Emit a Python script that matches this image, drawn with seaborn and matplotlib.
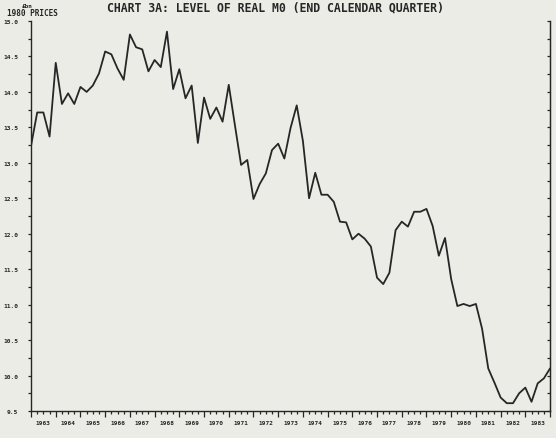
import numpy as np
import pandas as pd
import matplotlib
matplotlib.use("Agg")
import matplotlib.pyplot as plt
import seaborn as sns
from matplotlib.ticker import MultipleLocator, NullFormatter, FormatStrFormatter

# ---- data (end of calendar quarter, 1962Q4 .. 1983Q4), £bn at 1980 prices ----
first_year = 1963
last_year = 1984
real_m0 = [
    13.24, 13.71, 13.71, 13.37, 14.41, 13.83, 13.98, 13.83, 14.07, 14.00,
    14.09, 14.26, 14.57, 14.53, 14.33, 14.17, 14.81, 14.63, 14.60, 14.29,
    14.45, 14.35, 14.85, 14.04, 14.32, 13.91, 14.09, 13.28, 13.92, 13.62,
    13.78, 13.58, 14.10, 13.53, 12.97, 13.04, 12.49, 12.70, 12.85, 13.18,
    13.27, 13.06, 13.49, 13.81, 13.31, 12.50, 12.86, 12.55, 12.55, 12.45,
    12.17, 12.16, 11.92, 12.00, 11.93, 11.82, 11.38, 11.29, 11.45, 12.05,
    12.17, 12.10, 12.31, 12.31, 12.35, 12.11, 11.69, 11.94, 11.36, 10.98,
    11.01, 10.98, 11.01, 10.66, 10.10, 9.90, 9.69, 9.61, 9.61, 9.75,
    9.83, 9.63, 9.89, 9.96, 10.10,
]
year_labels = [str(y) for y in range(first_year, last_year)]
title_text = "CHART 3A: LEVEL OF REAL M0 (END CALENDAR QUARTER)"
unit_text = "£bn"
prices_text = "1980 PRICES"

quarter_pos = first_year + np.arange(len(real_m0)) / 4.0
df = pd.DataFrame({"time": quarter_pos, "value": real_m0})

# ---- style ----
bg = "#ececE6"
ink = "#262626"
sns.set_style("ticks")
plt.rcParams["font.family"] = ["DejaVu Sans Mono", "DejaVu Sans"]
plt.rcParams["font.weight"] = "bold"

fig = plt.figure(figsize=(5.56, 4.39), dpi=100, facecolor=bg)
ax = fig.add_axes([0.0558, 0.0615, 0.9335, 0.8884], facecolor=bg)

sns.lineplot(data=df, x="time", y="value", ax=ax, color=ink, linewidth=1.3)

ax.set_xlim(first_year, last_year)
ax.set_ylim(9.5, 15.0)
ax.set_xlabel("")
ax.set_ylabel("")

for s in ["left", "bottom", "right"]:
    ax.spines[s].set_color(ink)
    ax.spines[s].set_linewidth(1.0)
ax.spines["top"].set_visible(False)

# y ticks
ax.yaxis.set_major_locator(MultipleLocator(0.5))
ax.yaxis.set_minor_locator(MultipleLocator(0.25))
ax.yaxis.set_major_formatter(FormatStrFormatter("%.1f"))
ax.tick_params(axis="y", which="both", direction="out", length=2.2, width=0.9,
               color=ink, labelsize=4.5, labelcolor=ink, pad=7)
for lbl in ax.get_yticklabels():
    lbl.set_fontweight("bold")

# right axis with inward ticks
sec = ax.secondary_yaxis("right")
sec.yaxis.set_major_locator(MultipleLocator(0.25))
sec.yaxis.set_major_formatter(NullFormatter())
sec.tick_params(direction="in", length=2.2, width=0.9, color=ink)
sec.spines["right"].set_color(ink)

# x ticks: long at year boundaries, short at quarters
ax.xaxis.set_major_locator(MultipleLocator(1))
ax.xaxis.set_minor_locator(MultipleLocator(0.25))
ax.xaxis.set_major_formatter(NullFormatter())
ax.tick_params(axis="x", which="major", direction="out", length=4, width=0.9, color=ink)
ax.tick_params(axis="x", which="minor", direction="out", length=1.8, width=0.9, color=ink)

for i, lab in enumerate(year_labels):
    ax.annotate(lab, xy=(first_year + i + 0.5, 0), xycoords=("data", "axes fraction"),
                xytext=(0, -8), textcoords="offset points", ha="center", va="center",
                fontsize=4.4, fontweight="bold", color=ink)

# header texts
fig.text(27 / 556, 1 - 6 / 439, unit_text, ha="center", va="center",
         fontsize=4.3, fontweight="bold", color=ink)
fig.text(7 / 556, 1 - 14 / 439, prices_text, ha="left", va="center",
         fontsize=5.6, fontweight="bold", color=ink)
fig.text(275 / 556, 1 - 11 / 439, title_text, ha="center", va="baseline",
         fontsize=8.3, fontweight="bold", color=ink)

fig.savefig("out.png", dpi=100, facecolor=bg)
